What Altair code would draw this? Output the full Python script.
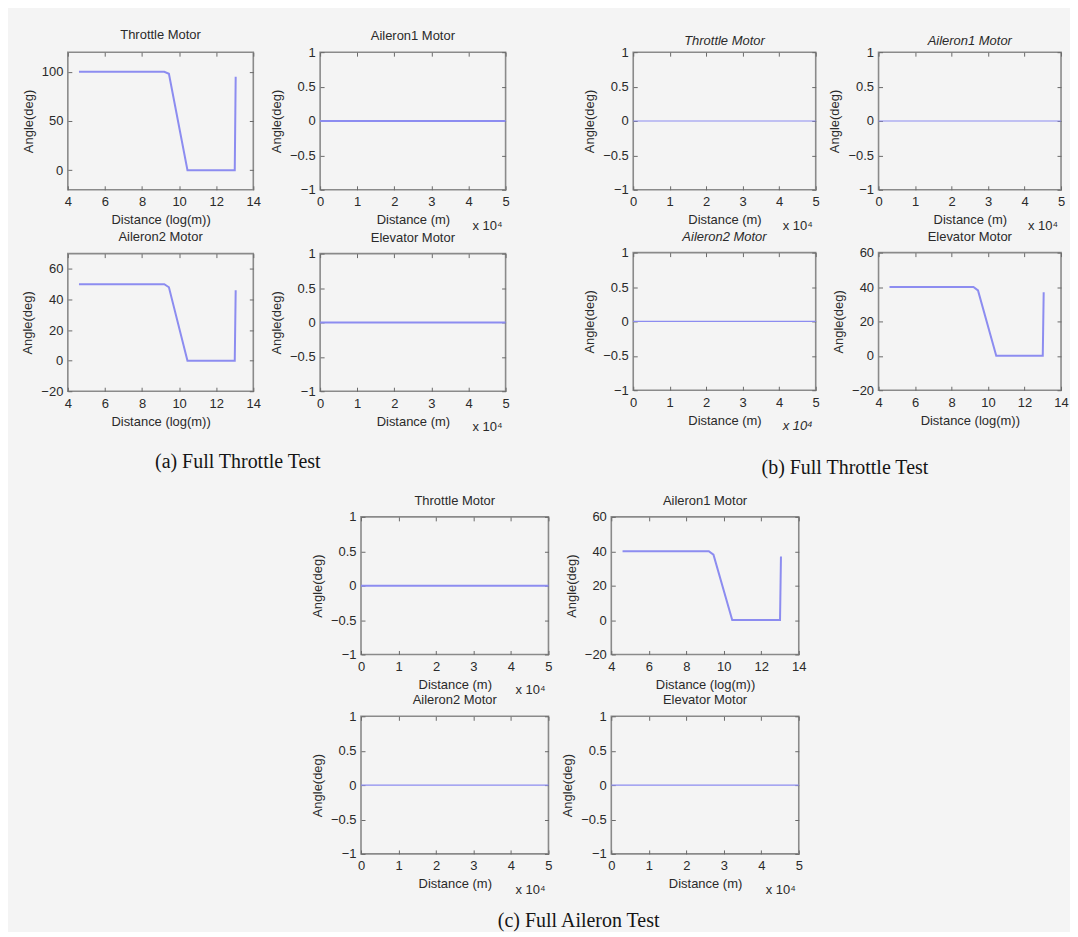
import altair as alt
import pandas as pd

# ---------------- data ----------------
log_dist = [4.6, 9.2, 9.45, 10.45, 13.0, 13.05]   # Distance (log(m))
throttle_a = [100, 100, 98, 0, 0, 95]            # (a) Throttle Motor
aileron2_a = [50, 50, 48, 0, 0, 46]              # (a) Aileron2 Motor
elevator_b = [40, 40, 38, 0, 0, 37]              # (b) Elevator Motor
aileron1_c = [40, 40, 38, 0, 0, 37]              # (c) Aileron1 Motor
lin_dist = [0, 5]                                # Distance (m), x 10^4
zero_angle = [0, 0]                              # motors held at 0 deg

log_ticks = [4, 6, 8, 10, 12, 14]
lin_ticks = [0, 1, 2, 3, 4, 5]
unit_ticks = [-1, -0.5, 0, 0.5, 1]
throttle_ticks = [0, 50, 100]
deg_ticks = [-20, 0, 20, 40, 60]

motor_titles = ["Throttle Motor", "Aileron1 Motor", "Aileron2 Motor", "Elevator Motor"]
captions = ["(a) Full Throttle Test", "(b) Full Throttle Test", "(c) Full Aileron Test"]

# ---------------- styling ----------------
LINE = "#8c8cf0"
BOX = "#8a8a8a"
TICK = "#6a6a6a"
TXT = "#2a2a2a"
BG = "#f4f4f4"
FONT = "Liberation Sans"
SERIF = "Liberation Serif"
LABEL_EXPR = "replace(toString(datum.value), '-', '\u2212')"


def tick_axis(orient, values):
    # inward MATLAB-style tick marks only (no labels, no title)
    return alt.Axis(orient=orient, values=values, labels=False, domain=False,
                    ticks=True, tickSize=4, tickWidth=1, tickColor=TICK,
                    offset=-4, title=None, grid=False)


def panel(title, kind, ys, ydom, yticks, w, h, lw, italic=False,
          x10_italic=False, toff=0.0):
    if kind == "log":
        df = pd.DataFrame({"x": log_dist, "y": ys})
        xdom, xticks, xtitle = [4, 14], log_ticks, "Distance (log(m))"
    else:
        df = pd.DataFrame({"x": lin_dist, "y": ys})
        xdom, xticks, xtitle = [0, 5], lin_ticks, "Distance (m)"
    overflow = yticks[-1] == ydom[1]
    xs = alt.Scale(domain=xdom, nice=False, zero=False)
    ysc = alt.Scale(domain=ydom, nice=False, zero=False)
    base = alt.Chart(df)
    line = base.mark_line(color=LINE, strokeWidth=lw).encode(
        x=alt.X("x:Q", scale=xs,
                axis=alt.Axis(values=xticks, title=xtitle, labelExpr=LABEL_EXPR)),
        y=alt.Y("y:Q", scale=ysc,
                axis=alt.Axis(values=yticks, title="Angle(deg)", labelExpr=LABEL_EXPR)),
    )
    ticks_bl = base.mark_line(strokeOpacity=0).encode(
        x=alt.X("x:Q", scale=xs, axis=tick_axis("bottom", xticks)),
        y=alt.Y("y:Q", scale=ysc, axis=tick_axis("left", yticks)),
    )
    ticks_tr = base.mark_line(strokeOpacity=0).encode(
        x=alt.X("x:Q", scale=xs, axis=tick_axis("top", xticks)),
        y=alt.Y("y:Q", scale=ysc, axis=tick_axis("right", yticks)),
    )
    layers = [line, ticks_bl, ticks_tr]
    if kind == "lin":
        t = alt.Chart(pd.DataFrame({"t": ["x 10⁴"]})).mark_text(
            align="right", baseline="middle", fontSize=13, font=FONT, color=TXT,
            fontStyle="italic" if x10_italic else "normal",
        ).encode(x=alt.value(w - 3), y=alt.value(h + 36), text="t:N")
        layers.append(t)
    return alt.layer(*layers).resolve_axis(x="independent", y="independent").properties(
        width=w, height=h,
        title=alt.TitleParams(
            title, frame="group", anchor="middle",
            offset=(3 if overflow else 9.5) + toff, fontSize=13, font=FONT,
            fontWeight="normal", color=TXT,
            fontStyle="italic" if italic else "normal",
        ),
        view=alt.ViewBackground(stroke=BOX, strokeWidth=1.6),
    )


def spacer():
    return alt.Chart(pd.DataFrame({"s": [""]})).mark_text().encode(
        x=alt.value(0), y=alt.value(0), text="s:N").properties(width=1, height=1)


def cap(text, off, dx):
    return alt.TitleParams(text, orient="bottom", anchor="middle", frame="bounds",
                           offset=off, dx=dx, font=SERIF, fontSize=20,
                           fontWeight="normal", color="#151515")


def grid(panels, colgap, rowgap, title):
    return alt.concat(*panels, columns=2, bounds="flush",
                      spacing={"row": rowgap, "column": colgap}, title=title)


# group (a)
wA, hA = 186, 138
A = grid([
    panel(motor_titles[0], "log", throttle_a, [-20, 120], throttle_ticks, wA, hA, 2),
    panel(motor_titles[1], "lin", zero_angle, [-1, 1], unit_ticks, wA, hA, 2),
    panel(motor_titles[2], "log", aileron2_a, [-20, 70], deg_ticks, wA, hA, 2),
    panel(motor_titles[3], "lin", zero_angle, [-1, 1], unit_ticks, wA, hA, 2),
], 67, 64, cap(captions[0], 17.5, -28))

# group (b)
wB, hB = 183, 138
B = grid([
    panel(motor_titles[0], "lin", zero_angle, [-1, 1], unit_ticks, wB, hB, 1.1, italic=True, toff=-5),
    panel(motor_titles[1], "lin", zero_angle, [-1, 1], unit_ticks, wB, hB, 1.1, italic=True, toff=-5),
    panel(motor_titles[2], "lin", zero_angle, [-1, 1], unit_ticks, wB, hB, 1.1, italic=True, x10_italic=True),
    panel(motor_titles[3], "log", elevator_b, [-20, 60], deg_ticks, wB, hB, 2),
], 63, 63, cap(captions[1], 24, 19))

# group (c)
wC, hC = 188, 138
C = grid([
    panel(motor_titles[0], "lin", zero_angle, [-1, 1], unit_ticks, wC, hC, 2),
    panel(motor_titles[1], "log", aileron1_c, [-20, 60], deg_ticks, wC, hC, 2),
    panel(motor_titles[2], "lin", zero_angle, [-1, 1], unit_ticks, wC, hC, 1.1),
    panel(motor_titles[3], "lin", zero_angle, [-1, 1], unit_ticks, wC, hC, 1.1),
], 63, 62, cap(captions[2], 13, 20))

top = alt.hconcat(A, B, spacing=72)
bottom = alt.hconcat(spacer(), C, spacing=241)

chart = alt.vconcat(top, bottom, spacing=16).properties(
    padding={"left": 13, "top": 19, "right": 0, "bottom": 0},
    background=BG,
).configure_view(stroke="transparent").configure_axis(
    labelFont=FONT, titleFont=FONT, labelFontSize=13, titleFontSize=13,
    titleFontWeight="normal", labelColor=TXT, titleColor=TXT,
    ticks=False, domain=False, grid=False, labelFlush=False, labelOverlap=False,
).configure_axisX(labelPadding=6, titlePadding=5).configure_axisY(
    labelPadding=5, titlePadding=6)

chart.save("out.html", embed_options={"renderer": "svg", "actions": False})
